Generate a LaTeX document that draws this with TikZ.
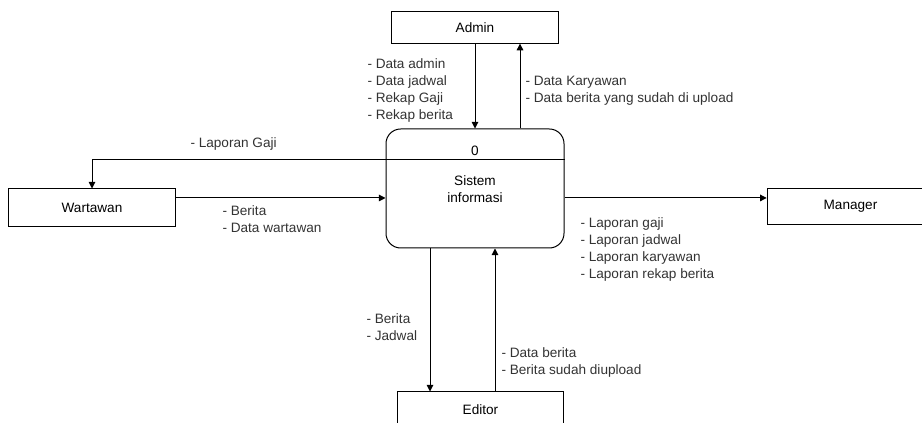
\documentclass[tikz,border=0pt]{standalone}
\usepackage{fontspec}
\setmainfont{Liberation Sans}
\usetikzlibrary{arrows.meta}

\tikzset{every picture/.style={line width=0.75pt}}
\tikzset{
	entity/.style={draw, minimum width=125pt, minimum height=27pt, inner sep=0pt},
	process/.style={draw, rounded corners=11pt, minimum width=133.5pt, minimum height=89.25pt, inner sep=0pt},
	flow/.style={-{Triangle[length=5pt,width=5pt]}},
	lbl/.style={anchor=west, inner sep=0pt, align=left, font=\fontsize{10.2}{12.75}\selectfont, text=black!80}
}

\begin{document}
\begin{tikzpicture}[x=0.75pt,y=0.75pt,yscale=-1,xscale=1]
	\useasboundingbox (0,0) rectangle (922,423);
	\clip (0,0) rectangle (922,423);

	%Shape: Rectangle [id:admin]
	\node [entity, minimum height=23.5pt, font=\fontsize{10.2}{12.75}\selectfont] (admin) at (475,27.5) {Admin};
	%Shape: Rectangle [id:wartawan]
	\node [entity, minimum height=28.5pt, font=\fontsize{10.2}{12.75}\selectfont] (wart) at (92,208) {Wartawan};
	%Shape: Rectangle [id:manager]
	\node [entity, minimum height=26.5pt, font=\fontsize{10.2}{12.75}\selectfont] (mgr) at (850.5,206.5) {Manager};
	%Shape: Rectangle [id:editor]
	\node [entity, font=\fontsize{10.2}{12.75}\selectfont] (edit) at (480.5,410) {Editor};

	%Shape: Rounded Rect [id:proses]
	\node [process] (proc) at (475,188.5) {};
	\draw ([yshift=-21.4pt]proc.west) -- ([yshift=-21.4pt]proc.east) ;
	\node [font=\fontsize{10.2}{12.75}\selectfont] (nomor) at (475,150.5) {0};
	\node [align=center, font=\fontsize{10.2}{12.75}\selectfont] (nama) at (475,189) {Sistem\\ informasi};

	%Straight Lines [id:admin-proses]
	\draw [flow] (admin.south) -- (proc.north) ;
	%Straight Lines [id:proses-admin]
	\draw [flow] ([xshift=33.75pt]proc.north) -- ([xshift=33.75pt]proc.north |- admin.south) ;
	%Straight Lines [id:proses-wartawan]
	\draw [flow] ([yshift=-22.1pt]proc.west) -| (wart.north) ;
	%Straight Lines [id:wartawan-proses]
	\draw [flow] ([yshift=-7.5pt]wart.east) -- ([yshift=-7.5pt]wart.east -| proc.west) ;
	%Straight Lines [id:proses-manager]
	\draw [flow] ([yshift=7.1pt]proc.east) -- ([yshift=7.1pt]proc.east -| mgr.west) ;
	%Straight Lines [id:proses-editor]
	\draw [flow] ([xshift=-33.75pt]proc.south) -- ([xshift=-33.75pt]proc.south |- edit.north) ;
	%Straight Lines [id:editor-proses]
	\draw [flow] ([xshift=15pt]proc.south |- edit.north) -- ([xshift=15pt]proc.south) ;

	% Text Node
	\node [lbl] (t-admin-in) at (367,90.5) {- Data admin\\ - Data jadwal\\ - Rekap Gaji\\ - Rekap berita};
	% Text Node
	\node [lbl] (t-admin-out) at (525,90.5) {- Data Karyawan\\ - Data berita yang sudah di upload};
	% Text Node
	\node [lbl] (t-gaji) at (190,144) {- Laporan Gaji};
	% Text Node
	\node [lbl] (t-wart-in) at (222,219.5) {- Berita\\ - Data wartawan};
	% Text Node
	\node [lbl] (t-mgr) at (580,249.5) {- Laporan gaji\\ - Laporan jadwal\\ - Laporan karyawan\\ - Laporan rekap berita};
	% Text Node
	\node [lbl] (t-edit-in) at (366,327.5) {- Berita\\ - Jadwal};
	% Text Node
	\node [lbl] (t-edit-out) at (501,362.5) {- Data berita\\ - Berita sudah diupload};

\end{tikzpicture}
\end{document}
